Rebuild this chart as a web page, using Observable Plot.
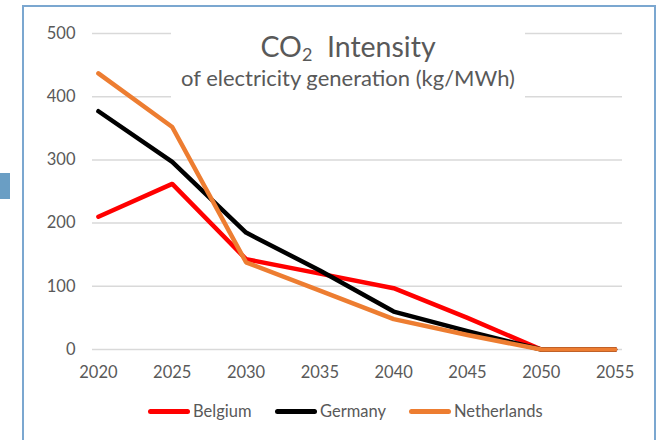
<!DOCTYPE html>
<html><head><meta charset="utf-8">
<script src="https://cdn.jsdelivr.net/npm/d3@7"></script>
<script src="https://cdn.jsdelivr.net/npm/@observablehq/plot@0.6"></script>
<style>
html,body{margin:0;padding:0;background:#fff;}
#wrap{position:relative;width:669px;height:440px;overflow:hidden;font-family:Lato,"Open Sans",sans-serif;}
#frame{position:absolute;left:22px;top:5px;width:634px;height:460px;border:2px solid #7ba7d0;box-sizing:border-box;}
#tab{position:absolute;left:0;top:173px;width:10px;height:26px;background:#6a9ec4;}
#title{position:absolute;left:171px;top:28px;width:354px;height:72px;background:#fff;text-align:center;color:#595959;}
#t1{font-size:28.5px;line-height:30px;margin-top:3px;}
#t1 sub{font-size:18px;vertical-align:-4px;line-height:0;}
#t2{font-size:22px;line-height:24px;margin-top:5px;white-space:nowrap;}
#legend{position:absolute;top:400px;left:0;width:669px;height:22px;color:#595959;font-size:16.5px;}
.item{position:absolute;top:0;display:flex;align-items:center;height:22px;}
.sw{width:42px;height:5px;border-radius:3px;margin-right:3px;}
</style></head>
<body><div id="wrap"><div id="chart"></div>
<div id="title"><div id="t1">CO<sub>2</sub>&nbsp; Intensity</div><div id="t2">of electricity generation (kg/MWh)</div></div>
<div id="legend"></div>
<div id="frame"></div><div id="tab"></div>
</div>
<script>
const years = [2020, 2025, 2030, 2035, 2040, 2045, 2050, 2055];
const belgium = [210, 262, 143, 120, 97, 50, 0, 0];
const germany = [377, 297, 185, 125, 60, 29, 0, 0];
const netherlands = [437, 352, 138, 93, 48, 23, 0, 0];
const seriesNames = ["Belgium", "Germany", "Netherlands"];
const seriesColors = ["#ff0000", "#000000", "#ed7d31"];
const yTicks = [0, 100, 200, 300, 400, 500];
const xTicks = [2020, 2025, 2030, 2035, 2040, 2045, 2050, 2055];

const allSeries = [belgium, germany, netherlands];
const data = [];
allSeries.forEach((vals, si) => years.forEach((yr, i) => data.push({year: yr, value: vals[i], country: seriesNames[si]})));

const chart = Plot.plot({
  width: 669, height: 440,
  marginLeft: 92, marginRight: 47, marginTop: 33, marginBottom: 91,
  style: {fontFamily: "Lato, 'Open Sans', sans-serif", background: "transparent"},
  x: {domain: [2019.6, 2055.5]},
  y: {domain: [0, 500]},
  color: {domain: seriesNames, range: seriesColors},
  marks: [
    Plot.ruleY(yTicks, {stroke: "#d9d9d9", strokeWidth: 1.5}),
    Plot.axisY(yTicks, {tickSize: 0, tickPadding: 17, fontSize: 16.5, fill: "#595959", label: null}),
    Plot.axisX(xTicks, {tickSize: 0, tickPadding: 17, fontSize: 16.5, fill: "#595959", label: null, tickFormat: d => String(d)}),
    Plot.line(data, {x: "year", y: "value", z: "country", stroke: "country", strokeWidth: 4.5, strokeLinejoin: "round", strokeLinecap: "round"})
  ]
});
document.getElementById("chart").appendChild(chart);

const legendPos = [148, 275, 409];
const leg = document.getElementById("legend");
seriesNames.forEach((n, i) => {
  const it = document.createElement("div");
  it.className = "item";
  it.style.left = legendPos[i] + "px";
  it.innerHTML = `<div class="sw" style="background:${seriesColors[i]}"></div><span>${n}</span>`;
  leg.appendChild(it);
});
</script>
</body></html>
